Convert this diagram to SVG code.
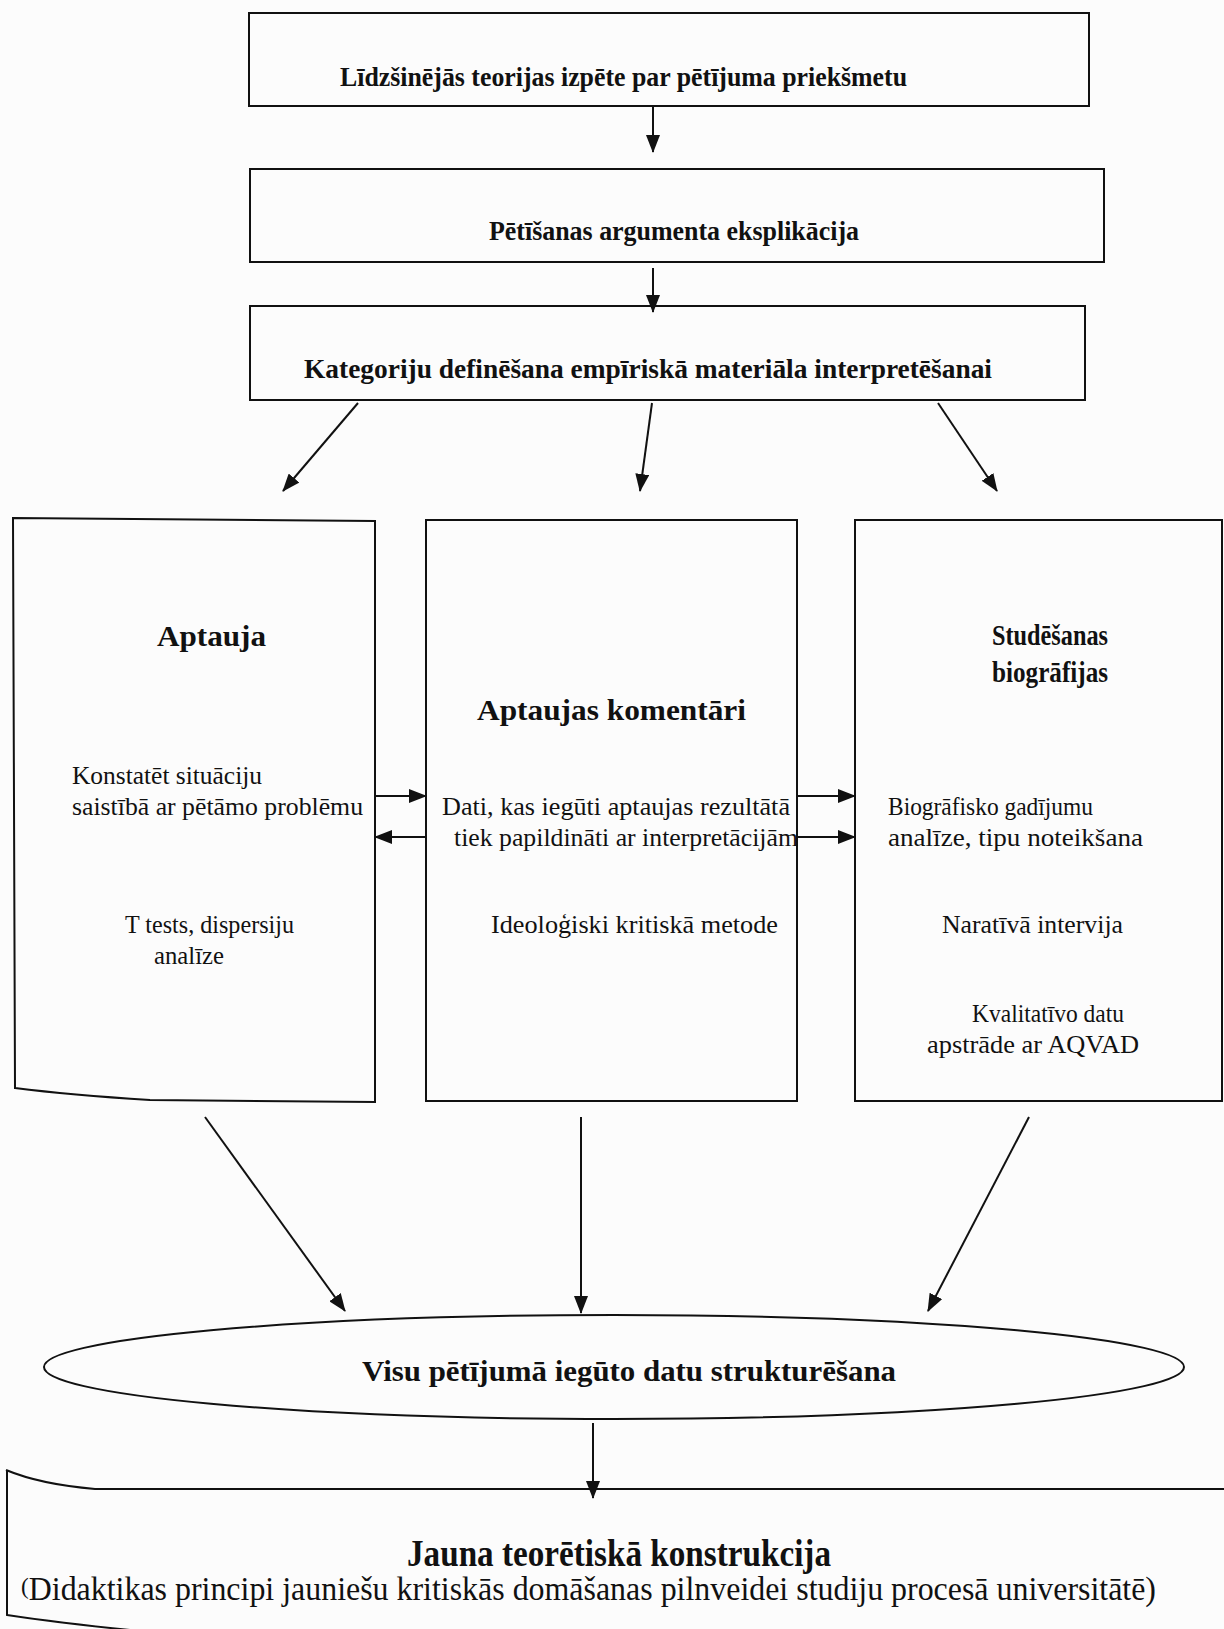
<svg xmlns="http://www.w3.org/2000/svg" width="1224" height="1629" viewBox="0 0 1224 1629">
  <style>
    .box { fill: none; stroke: #111; stroke-width: 2; }
    .conn { fill: none; stroke: #111; stroke-width: 2; }
    .hb { font-family: "Liberation Serif", "Times New Roman", serif; font-weight: bold; fill: #111; }
    .t { font-family: "Liberation Serif", "Times New Roman", serif; fill: #111; }
  </style>
  <defs>
    <marker id="ah" markerUnits="userSpaceOnUse" markerWidth="18" markerHeight="14" refX="17" refY="7" orient="auto">
      <path d="M0,0 L18,7 L0,14 Z" fill="#111"/>
    </marker>
  </defs>
  <rect width="1224" height="1629" fill="#fcfcfc"/>

  <g id="n-theory">
    <rect class="box" x="249" y="13" width="840" height="93"/>
    <text class="hb" x="340" y="86" font-size="27" textLength="567" lengthAdjust="spacingAndGlyphs">Līdzšinējās teorijas izpēte par pētījuma priekšmetu</text>
  </g>
  <g id="n-argument">
    <rect class="box" x="250" y="169" width="854" height="93"/>
    <text class="hb" x="489" y="240" font-size="27" textLength="370" lengthAdjust="spacingAndGlyphs">Pētīšanas argumenta eksplikācija</text>
  </g>
  <g id="n-categories">
    <rect class="box" x="250" y="306" width="835" height="94"/>
    <text class="hb" x="304" y="378" font-size="27" textLength="688" lengthAdjust="spacingAndGlyphs">Kategoriju definēšana empīriskā materiāla interpretēšanai</text>
  </g>

  <g id="n-survey">
    <path class="box" d="M13,518 L375,521 L375,1102 L150,1100 Q70,1095 15,1088 Z"/>
    <text class="hb" x="157" y="646" font-size="30" textLength="109" lengthAdjust="spacingAndGlyphs">Aptauja</text>
    <text class="t" x="72" y="784" font-size="26" textLength="190" lengthAdjust="spacingAndGlyphs">Konstatēt situāciju</text>
    <text class="t" x="72" y="815" font-size="26" textLength="291" lengthAdjust="spacingAndGlyphs">saistībā ar pētāmo problēmu</text>
    <text class="t" x="125" y="933" font-size="26" textLength="169" lengthAdjust="spacingAndGlyphs">T tests, dispersiju</text>
    <text class="t" x="154" y="964" font-size="26" textLength="70" lengthAdjust="spacingAndGlyphs">analīze</text>
  </g>

  <g id="n-comments">
    <rect class="box" x="426" y="520" width="371" height="581"/>
    <text class="hb" x="477" y="720" font-size="30" textLength="269" lengthAdjust="spacingAndGlyphs">Aptaujas komentāri</text>
    <text class="t" x="442" y="815" font-size="26" textLength="348" lengthAdjust="spacingAndGlyphs">Dati, kas iegūti aptaujas rezultātā</text>
    <text class="t" x="454" y="846" font-size="26" textLength="344" lengthAdjust="spacingAndGlyphs">tiek papildināti ar interpretācijām</text>
    <text class="t" x="491" y="933" font-size="26" textLength="287" lengthAdjust="spacingAndGlyphs">Ideoloģiski kritiskā metode</text>
  </g>

  <g id="n-biographies">
    <rect class="box" x="855" y="520" width="367" height="581"/>
    <text class="hb" x="992" y="645" font-size="30" textLength="116" lengthAdjust="spacingAndGlyphs">Studēšanas</text>
    <text class="hb" x="992" y="682" font-size="30" textLength="116" lengthAdjust="spacingAndGlyphs">biogrāfijas</text>
    <text class="t" x="888" y="815" font-size="26" textLength="205" lengthAdjust="spacingAndGlyphs">Biogrāfisko gadījumu</text>
    <text class="t" x="888" y="846" font-size="26" textLength="255" lengthAdjust="spacingAndGlyphs">analīze, tipu noteikšana</text>
    <text class="t" x="942" y="933" font-size="26" textLength="181" lengthAdjust="spacingAndGlyphs">Naratīvā intervija</text>
    <text class="t" x="972" y="1022" font-size="26" textLength="152" lengthAdjust="spacingAndGlyphs">Kvalitatīvo datu</text>
    <text class="t" x="927" y="1053" font-size="26" textLength="212" lengthAdjust="spacingAndGlyphs">apstrāde ar AQVAD</text>
  </g>

  <g id="n-structuring">
    <ellipse class="box" cx="614" cy="1367" rx="570" ry="52" stroke-width="2.5"/>
    <text class="hb" x="362" y="1381" font-size="30" textLength="534" lengthAdjust="spacingAndGlyphs">Visu pētījumā iegūto datu strukturēšana</text>
  </g>

  <g id="n-construction">
    <path class="box" d="M6,1470 C30,1480 60,1486 95,1489 L1224,1489"/>
    <path class="box" d="M7,1470 L7,1615 C40,1620 80,1625 130,1630"/>
    <text class="hb" x="407" y="1566" font-size="37" textLength="424" lengthAdjust="spacingAndGlyphs">Jauna teorētiskā konstrukcija</text>
    <text class="t" x="21" y="1600" font-size="33" textLength="1135" lengthAdjust="spacingAndGlyphs"><tspan font-size="24" dy="-6">(</tspan><tspan dy="6">Didaktikas principi jauniešu kritiskās domāšanas pilnveidei studiju procesā universitātē)</tspan></text>
  </g>

  <g id="connectors">
    <line class="conn" x1="653" y1="106" x2="653" y2="152" marker-end="url(#ah)"/>
    <line class="conn" x1="653" y1="268" x2="653" y2="312" marker-end="url(#ah)"/>
    <line class="conn" x1="358" y1="403" x2="283" y2="491" marker-end="url(#ah)"/>
    <line class="conn" x1="652" y1="403" x2="640" y2="491" marker-end="url(#ah)"/>
    <line class="conn" x1="938" y1="403" x2="997" y2="491" marker-end="url(#ah)"/>
    <line class="conn" x1="375" y1="796" x2="426" y2="796" marker-end="url(#ah)"/>
    <line class="conn" x1="426" y1="837" x2="375" y2="837" marker-end="url(#ah)"/>
    <line class="conn" x1="797" y1="796" x2="855" y2="796" marker-end="url(#ah)"/>
    <line class="conn" x1="797" y1="837" x2="855" y2="837" marker-end="url(#ah)"/>
    <line class="conn" x1="205" y1="1117" x2="345" y2="1311" marker-end="url(#ah)"/>
    <line class="conn" x1="581" y1="1117" x2="581" y2="1313" marker-end="url(#ah)"/>
    <line class="conn" x1="1029" y1="1117" x2="928" y2="1311" marker-end="url(#ah)"/>
    <line class="conn" x1="593" y1="1423" x2="593" y2="1498" marker-end="url(#ah)"/>
  </g>
</svg>
